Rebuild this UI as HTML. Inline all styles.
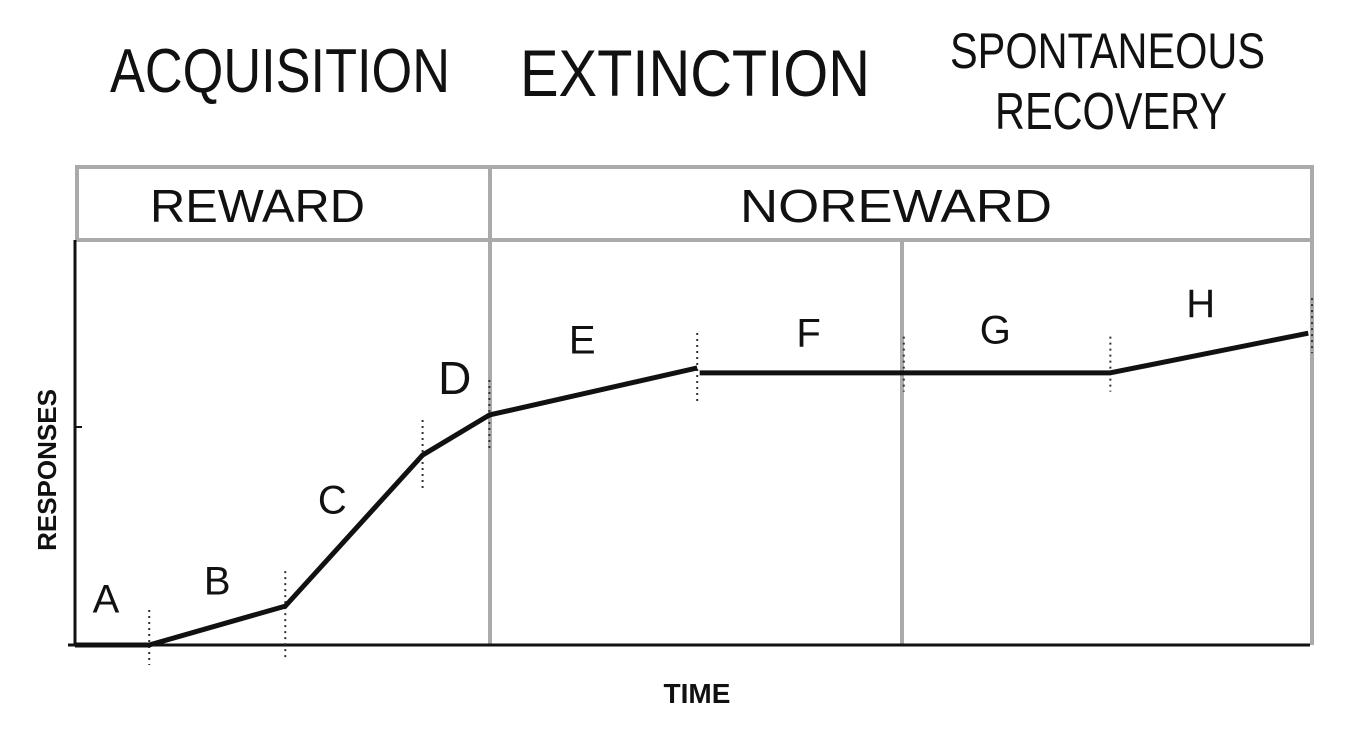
<!DOCTYPE html>
<html><head><meta charset="utf-8"><style>
html,body{margin:0;padding:0;background:#fff;}
svg{display:block;}
.hand{font-family:"Liberation Sans","DejaVu Sans",sans-serif;font-weight:normal;fill:#111;}
.bold{font-family:"Liberation Sans",sans-serif;font-weight:bold;fill:#111;}
</style></head><body>
<svg id="chart" width="1362" height="740" viewBox="0 0 1362 740">
<g>
<text class="hand" x="110" y="92" font-size="62" textLength="340" lengthAdjust="spacingAndGlyphs">ACQUISITION</text>
<text class="hand" x="520" y="96" font-size="66" textLength="350" lengthAdjust="spacingAndGlyphs">EXTINCTION</text>
<text class="hand" x="950" y="68" font-size="50" textLength="315" lengthAdjust="spacingAndGlyphs">SPONTANEOUS</text>
<text class="hand" x="995" y="129" font-size="52" textLength="232" lengthAdjust="spacingAndGlyphs">RECOVERY</text>
</g>
<g stroke="#aaa" stroke-width="4" fill="none">
<rect x="77" y="167" width="1235" height="73"/>
<line x1="490" y1="167" x2="490" y2="240"/>
</g>
<text class="hand" x="150" y="222" font-size="46" textLength="215" lengthAdjust="spacingAndGlyphs">REWARD</text>
<text class="hand" x="740" y="222" font-size="46" textLength="312" lengthAdjust="spacingAndGlyphs">NOREWARD</text>
<g stroke="#aaa" stroke-width="4">
<line x1="490" y1="240" x2="490" y2="645"/>
<line x1="902" y1="240" x2="902" y2="645"/>
<line x1="1312" y1="240" x2="1312" y2="645"/>
</g>
<line x1="75" y1="240" x2="75" y2="646" stroke="#111" stroke-width="3"/>
<line x1="68" y1="645" x2="1310" y2="645" stroke="#111" stroke-width="3"/>
<line x1="75" y1="427" x2="82" y2="427" stroke="#111" stroke-width="2"/>
<text class="bold" transform="translate(56,470) rotate(-90)" text-anchor="middle" font-size="26">RESPONSES</text>
<text class="bold" x="697" y="703" text-anchor="middle" font-size="28">TIME</text>
<g id="marks"></g>
</svg>
<script>
const times = [0, 6, 17, 28.1, 33.5, 50.3];
const responses = [0, 0, 9.6, 46.9, 56.8, 68.4];
const times2 = [50.5, 83.7, 99.7];
const responses2 = [67.2, 67.2, 77];
const segLabels = ["A","B","C","D","E","F","G","H"];
const labelTimes = [2.5, 11.5, 20.8, 30.7, 41, 59.3, 74.4, 91];
const labelResp = [8, 12.5, 32.5, 62, 72, 73.7, 74.5, 81];
const boundaryTimes = [6, 17, 28.1, 33.5, 50.3, 67, 83.7, 100];

const X = t => 75 + t * 12.37;
const Y = r => 645 - r * 4.05;
const NS = "http://www.w3.org/2000/svg";
const g = document.getElementById('marks');

boundaryTimes.forEach((t, i) => {
  const l = document.createElementNS(NS, 'line');
  
  
  l.setAttribute('x1', X(t)); l.setAttribute('x2', X(t));
  const r = t <= 17 ? responses[Math.min(i+1,5)] : 0;
  l.setAttribute('y1', i < 2 ? Y(i===0?0:9.6) - 35 : (i < 5 ? Y([46.9,56.8,68.4][i-2]) - 35 : Y(i===7?77:67.5) - 35));
  l.setAttribute('y2', i < 2 ? Y(i===0?0:9.6) + 20 + (i===1?35:0) : (i < 5 ? Y([46.9,56.8,68.4][i-2]) + 35 : Y(i===7?77:67.5) + 20));
  l.setAttribute('stroke', '#333'); l.setAttribute('stroke-width', '2');
  l.setAttribute('stroke-dasharray', '2 4');
  g.appendChild(l);
});

function poly(ts, rs, name) {
  const p = document.createElementNS(NS, 'polyline');
  
  
  p.setAttribute('points', ts.map((t, i) => X(t) + ',' + Y(rs[i])).join(' '));
  p.setAttribute('fill', 'none'); p.setAttribute('stroke', '#111');
  p.setAttribute('stroke-width', '5'); p.setAttribute('stroke-linejoin', 'round');
  g.appendChild(p);
}
poly(times, responses, 'response-line-reward');
poly(times2, responses2, 'response-line-extinction');

segLabels.forEach((s, i) => {
  const t = document.createElementNS(NS, 'text');
  
  
  t.setAttribute('class', 'hand');
  t.setAttribute('x', X(labelTimes[i])); t.setAttribute('y', Y(labelResp[i]));
  t.setAttribute('text-anchor', 'middle');
  t.setAttribute('font-size', s === 'D' ? 46 : 40);
  t.textContent = s;
  g.appendChild(t);
});
</script>
</body></html>
